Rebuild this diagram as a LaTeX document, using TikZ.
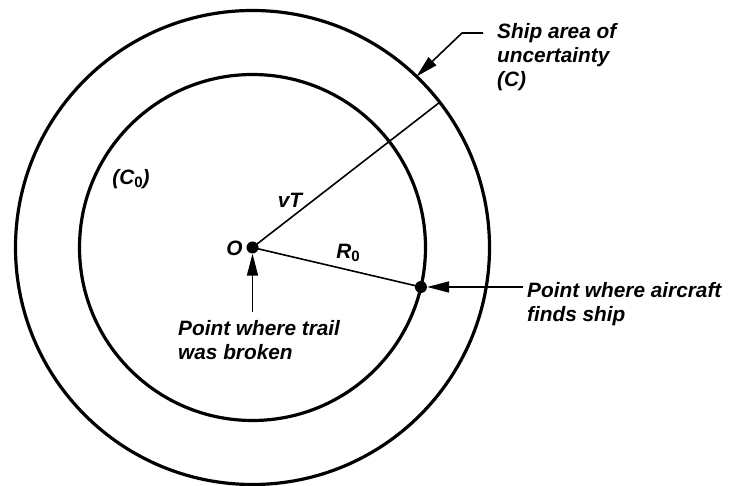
\documentclass[tikz,border=0pt]{standalone}
\usepackage{fontspec}
\setmainfont{Liberation Sans}
\usetikzlibrary{arrows.meta,calc}
\begin{document}
\begin{tikzpicture}[x=1pt,y=-1pt,
  ring/.style={line width=3.2pt},
  radiusline/.style={line width=1.6pt},
  pointer/.style={line width=1.6pt,-{Triangle[length=22pt,width=11pt]}},
  dot/.style={circle,fill=black,inner sep=0pt,minimum size=12pt},
  lbl/.style={font=\fontsize{20.8}{24}\selectfont\bfseries\itshape,inner sep=0pt,align=left}]
\useasboundingbox (0,0) rectangle (734,486);
\coordinate (O) at (252.5,247.5);
\draw[ring] (O) circle[radius=237pt];
\draw[ring] (O) circle[radius=173pt];
\coordinate (vtend) at ($(O)+(37.8:237pt)$);
\coordinate (find) at ($(O)+(-13.2:173pt)$);
\draw[radiusline] (O) -- (vtend);
\draw[radiusline] (O) -- (find);
\node[dot] (Od) at (O) {};
\node[dot] (Fd) at (find) {};
% pointers
\coordinate (trailtail) at (252.5,312);
\draw[pointer] (trailtail) -- (Od);
\coordinate (actail) at ($(find)+(102pt,0pt)$);
\draw[pointer] (actail) -- (Fd);
\coordinate (shipA) at (483,33);
\coordinate (shipB) at (462,33);
\coordinate (shipTip) at ($(O)+(46.2:237pt)$);
\draw[pointer] (shipA) -- (shipB) -- (shipTip);
% labels
\node[lbl,anchor=north west] (ship) at (497,23.5) {Ship area of\\uncertainty\\(C)};
\node[lbl,anchor=north west] (trail) at (178,320.5) {Point where trail\\was broken};
\node[lbl,anchor=north west] (aircraft) at (527,282.5) {Point where aircraft\\finds ship};
\node[lbl] (olab) at (234.5,248.5) {O};
\node[lbl] (vt) at (290,200) {vT};
\node[lbl] (r0) at (348,253) {R\raisebox{-3pt}{\fontsize{15}{15}\selectfont\upshape 0}};
\node[lbl] (c0) at (131,179) {(C\raisebox{-3pt}{\fontsize{15}{15}\selectfont\upshape 0})};
\end{tikzpicture}
\end{document}
